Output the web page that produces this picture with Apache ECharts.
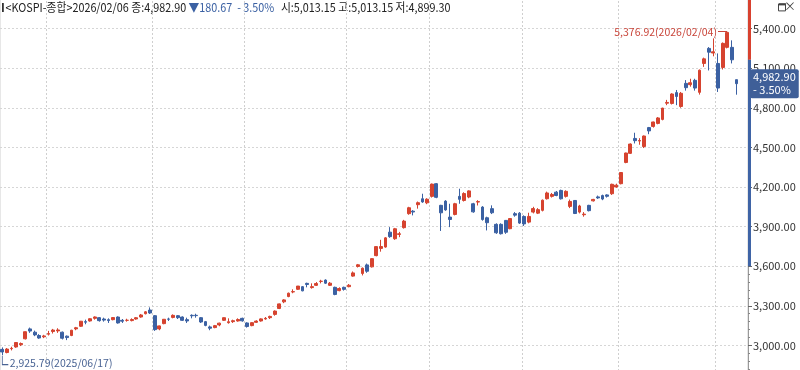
<!DOCTYPE html>
<html><head><meta charset="utf-8">
<script src="https://cdn.jsdelivr.net/npm/echarts/dist/echarts.min.js"></script>
<style>html,body{margin:0;padding:0;background:#fff;overflow:hidden;width:800px;height:370px;position:relative}#c{position:absolute;left:0;top:-11.4px;width:800px;height:396px}</style>
</head><body><div id="c"></div>
<script>
const dates = [
'2025/06/17','2025/06/18','2025/06/19','2025/06/20','2025/06/23','2025/06/24','2025/06/25','2025/06/26','2025/06/27','2025/06/30',
'2025/07/01','2025/07/02','2025/07/03','2025/07/04','2025/07/07','2025/07/08','2025/07/09','2025/07/10','2025/07/11','2025/07/14','2025/07/15','2025/07/16','2025/07/17','2025/07/18','2025/07/21','2025/07/22','2025/07/23','2025/07/24','2025/07/25','2025/07/28','2025/07/29','2025/07/30','2025/07/31',
'2025/08/01','2025/08/04','2025/08/05','2025/08/06','2025/08/07','2025/08/08','2025/08/11','2025/08/12','2025/08/13','2025/08/14','2025/08/18','2025/08/19','2025/08/20','2025/08/21','2025/08/22','2025/08/25','2025/08/26','2025/08/27','2025/08/28','2025/08/29',
'2025/09/01','2025/09/02','2025/09/03','2025/09/04','2025/09/05','2025/09/08','2025/09/09','2025/09/10','2025/09/11','2025/09/12','2025/09/15','2025/09/16','2025/09/17','2025/09/18','2025/09/19','2025/09/22','2025/09/23','2025/09/24','2025/09/25','2025/09/26','2025/09/29','2025/09/30',
'2025/10/01','2025/10/02','2025/10/10','2025/10/13','2025/10/14','2025/10/15','2025/10/16','2025/10/17','2025/10/20','2025/10/21','2025/10/22','2025/10/23','2025/10/24','2025/10/27','2025/10/28','2025/10/29','2025/10/30','2025/10/31',
'2025/11/03','2025/11/04','2025/11/05','2025/11/06','2025/11/07','2025/11/10','2025/11/11','2025/11/12','2025/11/13','2025/11/14','2025/11/17','2025/11/18','2025/11/19','2025/11/20','2025/11/21','2025/11/24','2025/11/25','2025/11/26','2025/11/27','2025/11/28',
'2025/12/01','2025/12/02','2025/12/03','2025/12/04','2025/12/05','2025/12/08','2025/12/09','2025/12/10','2025/12/11','2025/12/12','2025/12/15','2025/12/16','2025/12/17','2025/12/18','2025/12/19','2025/12/22','2025/12/23','2025/12/24','2025/12/26','2025/12/29','2025/12/30',
'2026/01/02','2026/01/05','2026/01/06','2026/01/07','2026/01/08','2026/01/09','2026/01/12','2026/01/13','2026/01/14','2026/01/15','2026/01/16','2026/01/19','2026/01/20','2026/01/21','2026/01/22','2026/01/23','2026/01/26','2026/01/27','2026/01/28','2026/01/29','2026/01/30',
'2026/02/02','2026/02/03','2026/02/04','2026/02/05','2026/02/06'];

const opens = [
2970,2946,2975,2988,3005,3050,3125,3100,3075,3065,
3085,3105,3110,3100,3070,3075,3125,3145,3180,3185,3205,3210,3200,3195,3195,3215,3190,3190,3188,3200,3215,3240,3268,
3225,3125,3165,3200,3212,3225,3215,3195,3228,3228,3210,3180,3140,3135,3155,3190,3172,3180,3185,3205,
3170,3150,3175,3185,3200,3210,3235,3280,3330,3370,3405,3425,3445,3470,3438,3455,3485,3495,3455,3440,3415,3440,
3445,3525,3598,3545,3610,3595,3680,3735,3745,3858,3808,3841,3892,3998,4017,4066,4111,4080,
4129,4225,4061,4093,3972,3992,4129,4098,4124,4073,4086,4048,3967,4036,3917,3917,3947,3884,3998,4002,
3977,3934,4010,4002,4023,4111,4129,4161,4174,4129,4053,4098,4010,3990,4061,4095,4125,4135,4140,4149,4200,
4225,4386,4455,4568,4548,4507,4650,4659,4682,4712,4835,4833,4915,4810,4985,4975,5008,4917,5136,5250,5215,
5136,5106,5258,5258,5013.15];

const closes = [
2950.30,2972.03,2977.74,3021.84,3014.47,3103.64,3108.63,3079.56,3055.94,3071.70,
3089.65,3116.27,3116.95,3054.28,3059.47,3114.95,3133.74,3183.23,3175.77,3202.03,3215.28,3187.57,3191.65,3188.07,3210.81,3169.94,3183.45,3190.45,3196.05,3209.52,3230.57,3254.47,3245.44,
3119.41,3147.75,3198.00,3198.69,3227.68,3210.01,3189.91,3185.00,3224.37,3225.66,3177.28,3151.56,3130.09,3149.78,3168.73,3209.86,3179.36,3187.14,3196.32,3186.01,
3142.93,3172.35,3184.36,3200.83,3205.12,3219.59,3260.05,3314.53,3344.70,3395.54,3407.31,3449.62,3413.26,3461.30,3445.24,3468.65,3486.19,3471.11,3471.58,3386.05,3431.21,3424.60,
3455.83,3549.21,3610.60,3584.55,3561.81,3657.28,3748.37,3748.89,3814.69,3823.84,3883.68,3845.56,3941.59,4042.83,4010.41,4081.15,4086.89,4107.50,
4221.87,4121.74,4004.42,4026.45,3953.76,4073.24,4106.39,4150.39,4170.63,4011.57,4089.25,3953.62,3929.51,4004.85,3853.26,3846.06,3857.33,3960.87,3986.91,3926.59,
3920.37,3977.19,4036.30,4028.51,4100.05,4154.85,4143.55,4135.59,4110.62,4167.16,4090.59,3999.13,4056.41,3994.51,4020.55,4105.93,4117.32,4108.62,4129.68,4220.56,4214.17,
4309.63,4457.52,4525.48,4551.06,4552.37,4586.32,4624.79,4692.64,4723.10,4797.55,4840.74,4904.66,4885.75,4909.93,4952.53,4990.07,4949.59,5084.85,5170.81,5221.25,5224.36,
4949.67,5288.08,5371.10,5163.57,4982.90];

const lows = [
2925.79,2940,2962,2982,2995,3045,3095,3070,3050,3055,
3075,3090,3095,3045,3040,3070,3115,3140,3160,3180,3195,3180,3180,3170,3190,3165,3170,3180,3182,3195,3210,3235,3238,
3110,3115,3160,3185,3205,3200,3185,3170,3205,3210,3170,3145,3115,3130,3145,3185,3165,3170,3180,3180,
3135,3145,3170,3180,3195,3200,3225,3275,3320,3365,3395,3420,3410,3440,3430,3450,3470,3465,3450,3380,3410,3415,
3440,3520,3590,3530,3550,3590,3675,3710,3740,3815,3800,3820,3885,3990,3985,4036,4080,4070,
4120,4115,3867,4020,3896,3985,4073,4090,4115,4005,4060,3945,3871,3995,3845,3840,3845,3880,3975,3920,
3905,3925,4000,3995,4015,4105,4120,4130,4105,4120,4040,3995,4000,3975,4015,4090,4110,4100,4120,4140,4195,
4220,4380,4450,4530,4520,4495,4600,4650,4675,4705,4820,4825,4820,4800,4930,4960,4930,4900,5110,5083,5190,
4920,5090,5250,5136,4899.30];

const highs = [
2985,2980,2990,3025,3022,3106,3135,3112,3085,3080,
3110,3125,3130,3105,3075,3118,3140,3185,3195,3205,3220,3215,3210,3205,3215,3220,3200,3202,3205,3215,3238,3260,3288,
3230,3150,3200,3210,3235,3230,3220,3210,3235,3240,3215,3185,3150,3155,3172,3212,3205,3195,3205,3210,
3175,3175,3190,3205,3215,3225,3265,3317,3350,3400,3425,3450,3450,3475,3470,3480,3497,3500,3480,3445,3440,3445,
3465,3560,3617,3590,3620,3660,3750,3800,3820,3896,3890,3860,3951,4050,4025,4090,4149,4115,
4226,4230,4065,4100,4073,4080,4187,4160,4175,4080,4100,4055,3975,4061,3925,3925,3950,3965,4010,4010,
3985,4005,4050,4040,4105,4165,4155,4170,4180,4175,4105,4100,4065,4010,4065,4110,4135,4142,4145,4225,4225,
4313,4460,4530,4611,4570,4590,4655,4695,4730,4800,4860,4910,4935,4920,5010,5020,5020,5090,5180,5260,5326,
5212,5295,5376.92,5311,5013.15];

// price rail beside the axis: [from, to]
const railRanges = [[5163.57, 5700], [3600, 5163.57]];
const railColors = ['#d8412f', '#3f64a6'];

const UP = '#d6432f', DOWN = '#3b61a3';
const FONT = '"Noto Sans CJK KR","Noto Sans",sans-serif';
const fmt = v => v.toLocaleString('en-US', {minimumFractionDigits: 2, maximumFractionDigits: 2});

const n = closes.length, last = n - 1;
const ohlc = dates.map((d, i) => [opens[i], closes[i], lows[i], highs[i]]);
const maxIdx = highs.indexOf(Math.max(...highs));
const minIdx = lows.indexOf(Math.min(...lows));
const chg = closes[last] - closes[last - 1];
const pct = chg / closes[last - 1] * 100;
const OFF = 11.4; // container shift

const headerText = `{m| }{a|<KOSPI-종합>${dates[last]} 종:${fmt(closes[last])} }{b|▼${fmt(Math.abs(chg))}  - ${Math.abs(pct).toFixed(2)}%}{a|  시:${fmt(opens[last])} 고:${fmt(highs[last])} 저:${fmt(lows[last])}}`;

const chart = echarts.init(document.getElementById('c'));
chart.setOption({
  animation: false,
  textStyle: {fontFamily: FONT},
  graphic: [
    {type: 'text', left: 2, top: OFF + 1, scaleX: 0.9, silent: true,
     style: {text: headerText, font: '12px ' + FONT,
       rich: {
         m: {width: 2, height: 9, backgroundColor: '#333'},
         a: {fill: '#222', fontSize: 12, fontFamily: FONT, padding: [0, 0, 0, 2]},
         b: {fill: '#3b61a3', fontSize: 12, fontFamily: FONT}
       }}},
    {type: 'rect', right: 14, top: OFF + 3, shape: {width: 7, height: 7}, style: {fill: '#fff', stroke: '#444', lineWidth: 1}},
    {type: 'rect', right: 14, top: OFF + 3, shape: {width: 7, height: 2}, style: {fill: '#444'}},
    {type: 'text', right: 4, top: OFF, style: {text: '×', fill: '#444', font: '12px ' + FONT}}
  ],
  grid: {left: 0, right: 52, top: 0, bottom: 0, containLabel: false, outerBoundsMode: 'none', show: true, borderColor: '#cfcfcf', borderWidth: 1},
  xAxis: {
    type: 'category', data: dates, boundaryGap: true, max: n + 1,
    axisLine: {show: false}, axisTick: {show: false}, axisLabel: {show: false},
    splitLine: {
      show: true,
      interval: (i) => i > 0 && i < n && dates[i].slice(5, 7) !== dates[i - 1].slice(5, 7),
      lineStyle: {color: '#cfcfcf', type: [2, 2]}
    }
  },
  yAxis: {
    type: 'value', position: 'right', min: 2700, max: 5700, interval: 300,
    axisLine: {show: true, lineStyle: {color: '#9a9a9a', width: 1}},
    axisTick: {show: true, length: 4, lineStyle: {color: '#666'}},
    minorTick: {show: true, splitNumber: 5, length: 2, lineStyle: {color: '#888'}},
    axisLabel: {color: '#333', fontSize: 11, margin: 5, fontFamily: FONT, formatter: v => fmt(v)},
    splitLine: {show: true, lineStyle: {color: '#d6d6d6', type: [2, 2]}}
  },
  series: [
    {
      type: 'candlestick', data: ohlc, barWidth: '72%',
      itemStyle: {color: UP, color0: DOWN, borderColor: UP, borderColor0: DOWN, borderWidth: 1},
      markLine: {
        silent: true, symbol: ['none', 'none'], animation: false,
        data: [
          [
            {coord: [dates[maxIdx - 2], highs[maxIdx]], lineStyle: {color: '#c9453a', width: 1, type: 'solid'},
             label: {show: true, position: 'start', distance: 1, formatter: `${fmt(highs[maxIdx])}(${dates[maxIdx]})`, color: '#c9453a', fontSize: 10.5, fontFamily: FONT}},
            {coord: [dates[maxIdx], highs[maxIdx]]}
          ],
          {
            yAxis: closes[last], lineStyle: {color: 'rgba(0,0,0,0)', width: 1},
            label: {show: true, position: 'end', distance: 2, formatter: `${fmt(closes[last])}\n- ${Math.abs(pct).toFixed(2)}%`,
              color: '#fff', backgroundColor: '#3f5f98', padding: [2, 3, 1, 3], lineHeight: 13, fontSize: 11, borderRadius: 2, fontFamily: FONT}
          }
        ]
      },
      markPoint: {
        silent: true, animation: false,
        data: [
          {
            coord: [dates[minIdx], lows[minIdx]],
            symbol: 'path://M0,0L0,10L6,10', symbolSize: [6, 9], symbolOffset: [3, 5],
            itemStyle: {color: 'rgba(0,0,0,0)', borderColor: '#4a6494', borderWidth: 1},
            label: {show: true, position: 'right', distance: 1, offset: [0, 3], formatter: `${fmt(lows[minIdx])}(${dates[minIdx]})`, color: '#4a6494', fontSize: 10.5, fontFamily: FONT}
          },
          {
            coord: [n + 1, closes[last]],
            symbol: 'triangle', symbolRotate: 90, symbolSize: [8, 5], symbolOffset: [4, 0],
            itemStyle: {color: '#3f5f98'}, label: {show: false}
          }
        ]
      }
    },
    {
      type: 'custom', silent: true, clip: false, z: 5,
      data: railRanges,
      renderItem: (params, api) => {
        const cs = params.coordSys;
        const y1 = api.coord([0, api.value(0)])[1];
        const y2 = api.coord([0, api.value(1)])[1];
        const top = Math.max(cs.y, Math.min(y1, y2));
        return {type: 'rect', shape: {x: cs.x + cs.width, y: top, width: 3, height: Math.max(y1, y2) - top},
                style: {fill: railColors[params.dataIndex]}};
      }
    }
  ]
});
</script></body></html>
